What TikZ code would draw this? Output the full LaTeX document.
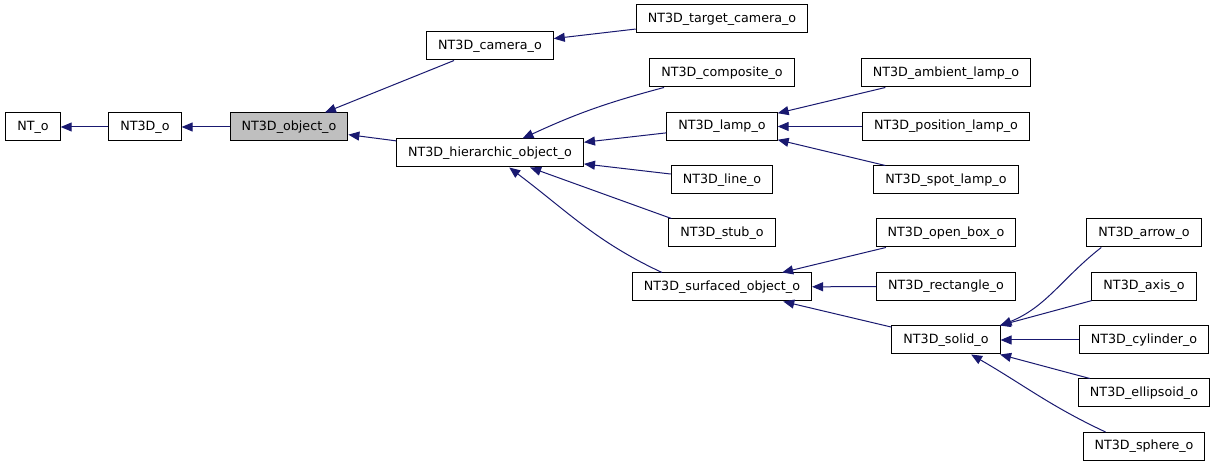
\documentclass[tikz,border=0pt]{standalone}
\usepackage{fontspec}
\setmainfont{DejaVu Sans}
\usetikzlibrary{arrows.meta}
\definecolor{edgeblue}{RGB}{25,25,112}
\definecolor{basegray}{RGB}{191,191,191}
\begin{document}
\begin{tikzpicture}[x=1bp, y=1bp, font=\fontsize{12.7bp}{15bp}\selectfont,
    cls/.style={draw=black, fill=white, line width=1bp, minimum height=28bp, inner xsep=11.5bp, inner ysep=0pt},
    cur/.style={cls, fill=basegray},
    inh/.style={draw=edgeblue, line width=1bp, line join=round, -{Triangle[length=11bp,width=9bp]}}]
    \fill[white] (0,0) rectangle (1216,467);
    % classes
    \node[cls] (nt) at (33,340) {NT\_o};
    \node[cls] (ntd) at (145,340) {NT3D\_o};
    \node[cur] (obj) at (289,340) {NT3D\_object\_o};
    \node[cls] (cam) at (490,421) {NT3D\_camera\_o};
    \node[cls] (tcam) at (722,448) {NT3D\_target\_camera\_o};
    \node[cls] (hier) at (490,314) {NT3D\_hierarchic\_object\_o};
    \node[cls] (comp) at (722,394) {NT3D\_composite\_o};
    \node[cls] (lamp) at (722,340.5) {NT3D\_lamp\_o};
    \node[cls] (line) at (722,287) {NT3D\_line\_o};
    \node[cls] (stub) at (722,234) {NT3D\_stub\_o};
    \node[cls] (surf) at (722,180) {NT3D\_surfaced\_object\_o};
    \node[cls] (amb) at (946,394) {NT3D\_ambient\_lamp\_o};
    \node[cls] (pos) at (946,340.5) {NT3D\_position\_lamp\_o};
    \node[cls] (spot) at (946,287) {NT3D\_spot\_lamp\_o};
    \node[cls] (obox) at (946,234) {NT3D\_open\_box\_o};
    \node[cls] (rect) at (946,180.5) {NT3D\_rectangle\_o};
    \node[cls] (solid) at (946,127) {NT3D\_solid\_o};
    \node[cls] (arrow) at (1144,234) {NT3D\_arrow\_o};
    \node[cls] (axis) at (1144,180.5) {NT3D\_axis\_o};
    \node[cls] (cyl) at (1144,127) {NT3D\_cylinder\_o};
    \node[cls] (ell) at (1144,74) {NT3D\_ellipsoid\_o};
    \node[cls] (sph) at (1144,20.5) {NT3D\_sphere\_o};
    % inheritance
    \draw[inh] (ntd) -- (nt);
    \draw[inh] (obj) -- (ntd);
    \draw[inh] (cam) -- (obj);
    \draw[inh] (hier) -- (obj);
    \draw[inh] (tcam) -- (cam);
    \draw[inh] (comp) to[bend right=5] (hier);
    \draw[inh] (lamp) -- (hier);
    \draw[inh] (line) -- (hier);
    \draw[inh] ([xshift=3bp]stub.north west) -- (hier);
    \draw[inh] ([xshift=30bp]surf.north west) to[out=155,in=-37] (hier);
    \draw[inh] (amb) -- (lamp);
    \draw[inh] (pos) -- (lamp);
    \draw[inh] (spot) -- (lamp);
    \draw[inh] (obox) -- (surf);
    \draw[inh] (rect) -- (surf);
    \draw[inh] (solid) -- (surf);
    \draw[inh] ([xshift=15bp]arrow.south west) to[out=218,in=22] (solid.north east);
    \draw[inh] (axis) -- (solid);
    \draw[inh] (cyl) -- (solid);
    \draw[inh] (ell) -- (solid);
    \draw[inh] ([xshift=23bp]sph.north west) to[out=155,in=-30] (solid);
\end{tikzpicture}
\end{document}
